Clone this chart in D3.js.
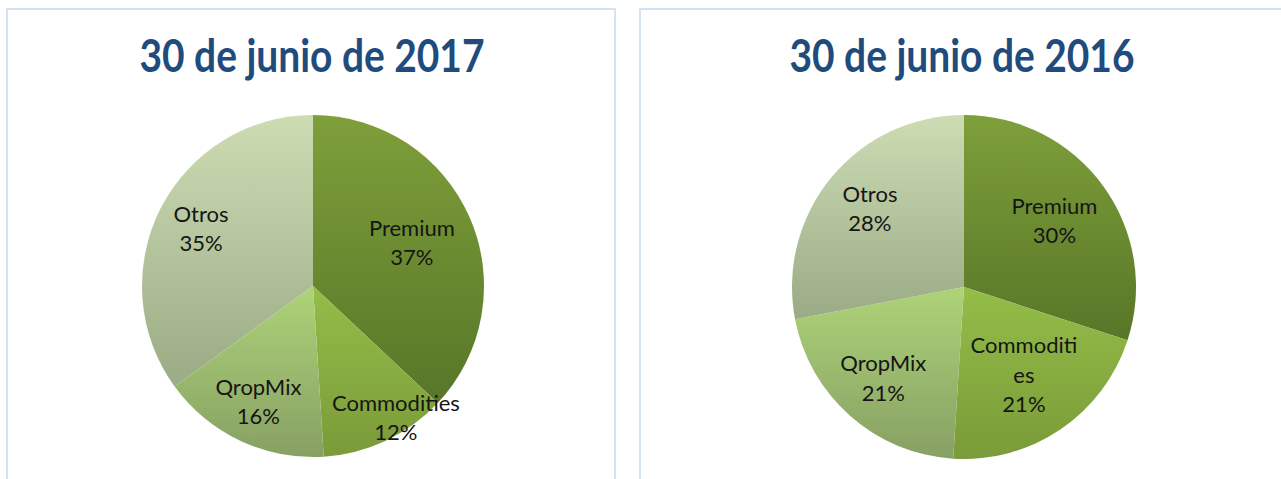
<!DOCTYPE html>
<html>
<head>
  <meta charset="utf-8">
  <title>30 de junio 2017 / 2016</title>
  <script src="https://d3js.org/d3.v7.min.js"></script>
  <style>
    body { margin: 0; background: #fff; }
    svg { display: block; }
    .title { font-family: Lato, "Open Sans", sans-serif; font-weight: 700; fill: #1f4b7d; }
    .label { font-family: Lato, "Open Sans", sans-serif; font-size: 22px; fill: #151515; }
  </style>
</head>
<body>
  <div id="chart"></div>

  <script>
    const categories = ["Premium", "Commodities", "QropMix", "Otros"];
    const values2017 = [37, 12, 16, 35];
    const values2016 = [30, 21, 21, 28];
    const labels2017 = [["Premium"], ["Commodities"], ["QropMix"], ["Otros"]];
    const labels2016 = [["Premium"], ["Commoditi", "es"], ["QropMix"], ["Otros"]];
    const titles = ["30 de junio de 2017", "30 de junio de 2016"];

    // gradient colours per slice (top -> bottom of each slice)
    const gradTop = ["#7e9f3a", "#94bd48", "#aed378", "#cddcb3"];
    const gradBottom = ["#587628", "#7a9b39", "#87a064", "#9aab85"];

    const width = 1281, height = 479;

    const svg = d3.select("#chart")
      .append("svg")
      .attr("width", width)
      .attr("height", height);

    const defs = svg.append("defs");
    categories.forEach((c, i) => {
      const g = defs.append("linearGradient")
        .attr("id", "grad" + i)
        .attr("x1", 0).attr("y1", 0).attr("x2", 0).attr("y2", 1);
      g.append("stop").attr("offset", "0%").attr("stop-color", gradTop[i]);
      g.append("stop").attr("offset", "100%").attr("stop-color", gradBottom[i]);
    });

    // panel frames
    svg.append("rect")
      .attr("x", 7).attr("y", 9).attr("width", 608).attr("height", 500)
      .attr("fill", "none").attr("stroke", "#d5e2f3").attr("stroke-width", 2);
    svg.append("rect")
      .attr("x", 640).attr("y", 9).attr("width", 700).attr("height", 500)
      .attr("fill", "none").attr("stroke", "#d5e2f3").attr("stroke-width", 2);

    const charts = [
      { title: titles[0], values: values2017, labels: labels2017, cx: 313, cy: 286, r: 171, tx: 312,
        labelR: [0.63, 0.91, 0.75, 0.735], labelShift: [0, -7, 0, 0] },
      { title: titles[1], values: values2016, labels: labels2016, cx: 964, cy: 287, r: 172, tx: 962,
        labelR: [0.65, 0.62, 0.71, 0.71], labelShift: [0, 0, 0, 0] }
    ];

    const pie = d3.pie().sort(null).value(d => d);
    const lineH = 29.3;

    charts.forEach(ch => {
      const t = svg.append("text")
        .attr("class", "title")
        .attr("x", ch.tx)
        .attr("y", 72)
        .attr("text-anchor", "middle")
        .style("font-size", "45px")
        .text(ch.title);
      t.attr("textLength", 345).attr("lengthAdjust", "spacingAndGlyphs");

      const g = svg.append("g").attr("transform", `translate(${ch.cx},${ch.cy})`);
      const arc = d3.arc().innerRadius(0).outerRadius(ch.r);
      const arcs = pie(ch.values);

      g.selectAll("path")
        .data(arcs)
        .enter()
        .append("path")
        .attr("d", arc)
        .attr("fill", (d, i) => `url(#grad${i})`);

      arcs.forEach((d, i) => {
        const a = (d.startAngle + d.endAngle) / 2 + ch.labelShift[i] * Math.PI / 180;
        const rr = ch.r * ch.labelR[i];
        const x = rr * Math.sin(a);
        const y = -rr * Math.cos(a);
        const lines = ch.labels[i].concat([ch.values[i] + "%"]);
        const txt = g.append("text")
          .attr("class", "label")
          .attr("text-anchor", "middle");
        lines.forEach((s, j) => {
          txt.append("tspan")
            .attr("x", x)
            .attr("y", y - (lines.length - 1) * lineH / 2 + 7.5 + j * lineH)
            .text(s);
        });
      });
    });
  </script>
</body>
</html>
